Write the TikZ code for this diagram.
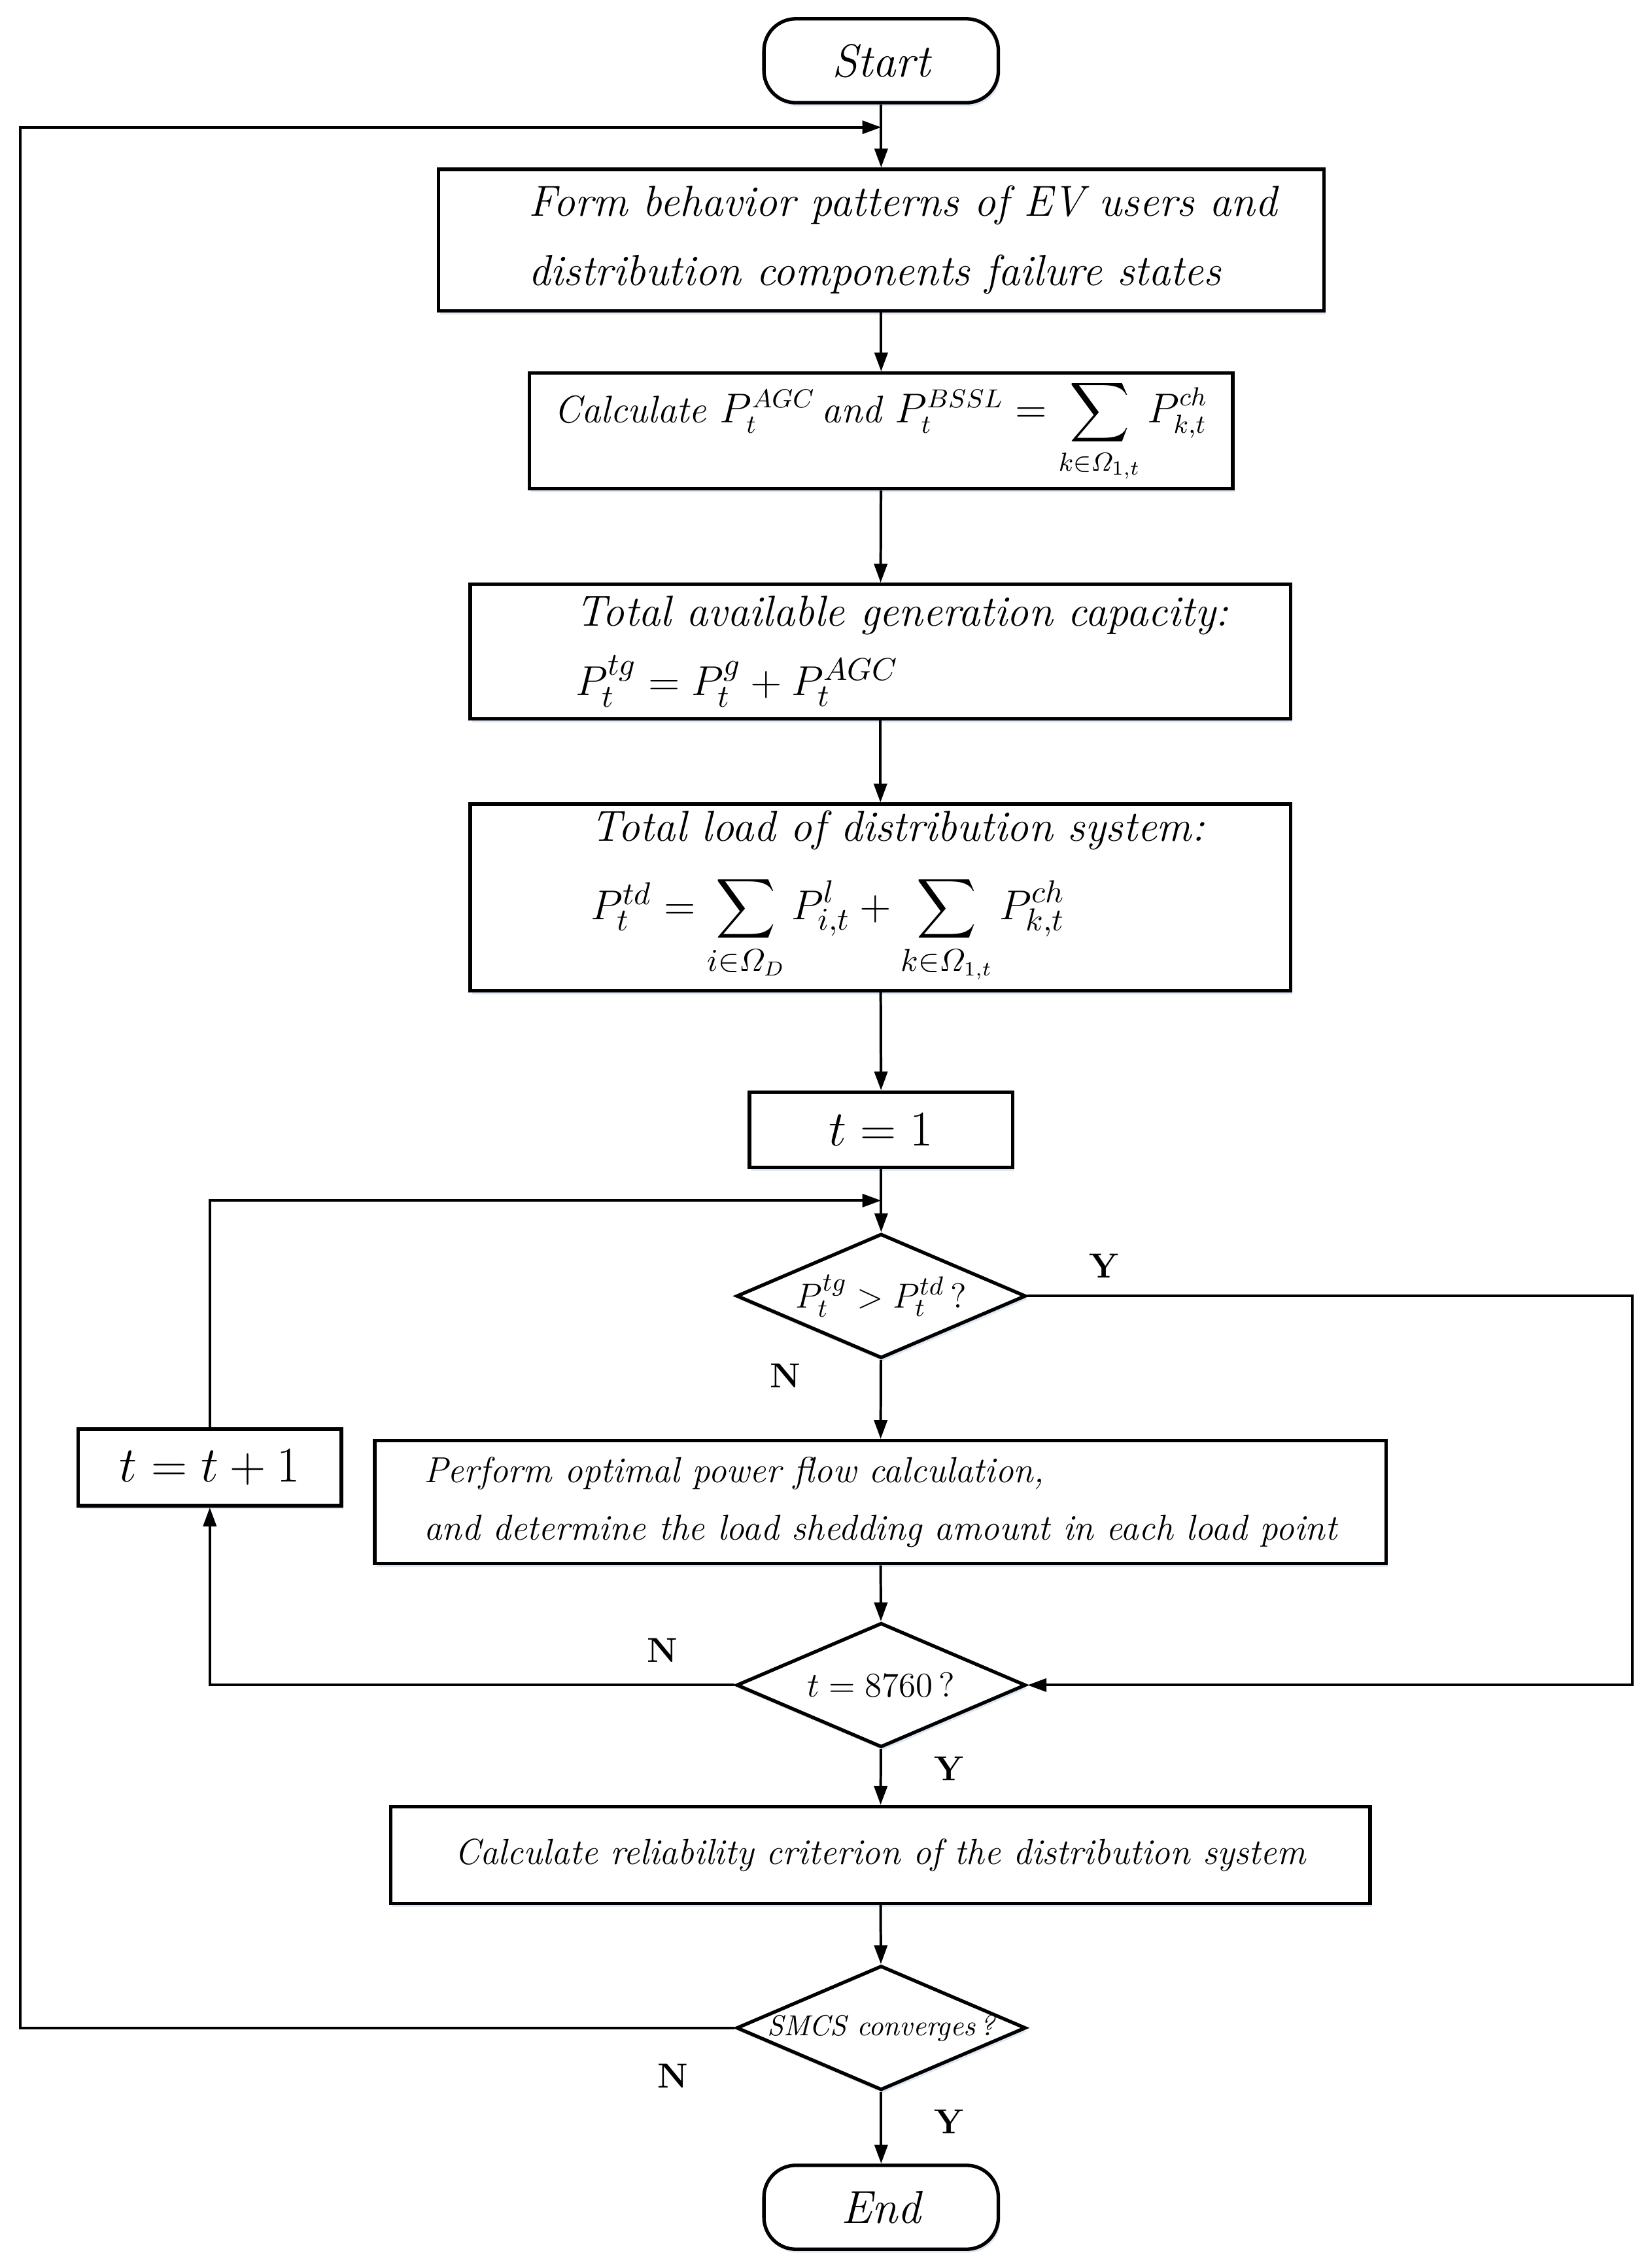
\documentclass[tikz,border=0pt]{standalone}
\usepackage{amsmath}
\usetikzlibrary{shapes.geometric,arrows.meta,shadows}
\definecolor{shadowblue}{RGB}{150,175,215}
\tikzset{
  shd/.style={drop shadow={shadow xshift=0.6pt, shadow yshift=-1.2pt, fill=shadowblue, opacity=0.3}},
  box/.style={draw, fill=white, line width=1.2pt, rectangle, inner sep=0pt, align=left, shd},
  term/.style={draw, fill=white, line width=1.2pt, rectangle, rounded corners=11pt, inner sep=0pt, shd},
  dec/.style={draw, fill=white, line width=1.2pt, diamond, aspect=1, inner sep=0pt, shd},
  conn/.style={line width=0.9pt, -{Triangle[length=6.5pt,width=4.5pt]}},
  yn/.style={font=\fontsize{12}{12}\selectfont\bfseries, inner sep=0pt},
}
\begin{document}
\begin{tikzpicture}[x=0.5pt,y=-0.5pt]
\useasboundingbox (0,0) rectangle (1140,1568);
% nodes
\node[term, minimum width=81pt, minimum height=29pt, font=\fontsize{16}{16}\selectfont\itshape] (start) at (609,42) {Start};
\node[box, minimum width=306pt, minimum height=49pt, font=\fontsize{15}{24}\selectfont\itshape] (b1) at (609,166)
  {\hspace*{15pt}Form behavior patterns of EV users and\\ \hspace*{15pt}distribution components failure states};
\node[box, minimum width=243pt, minimum height=40pt, font=\fontsize{13.3}{20}\selectfont\itshape] (b2) at (609,298)
  {Calculate $P_t^{AGC}$\,and $P_t^{BSSL}=\displaystyle\sum_{k\in\varOmega_{1,t}}P_{k,t}^{ch}$};
\node[box, minimum width=283.5pt, minimum height=46.5pt, font=\fontsize{15}{24}\selectfont\itshape] (b3) at (608.5,450.5)
  {\hspace*{15pt}Total available generation capacity:\\ \hspace*{15pt}$P_t^{tg}=P_t^{g}+P_t^{AGC}$};
\node[box, minimum width=283.5pt, minimum height=64.5pt, font=\fontsize{15}{23}\selectfont\itshape] (b4) at (608.5,620.5)
  {\hspace*{12pt}Total load of distribution system:\\[4pt] \hspace*{12pt}$P_t^{td}=\displaystyle\sum_{i\in\varOmega_D}P_{i,t}^{l}+\sum_{k\in\varOmega_{1,t}}P_{k,t}^{ch}$};
\node[box, minimum width=91pt, minimum height=26pt, font=\fontsize{19}{19}\selectfont] (t1) at (609,781) {$t=1$};
\node[dec, minimum width=100pt, minimum height=43pt, font=\fontsize{13}{13}\selectfont] (d1) at (609,896)
  {\makebox[0pt]{$P_t^{tg}>P_t^{td}\,?$}};
\node[box, minimum width=91pt, minimum height=26.5pt, font=\fontsize{16}{16}\selectfont] (tinc) at (145,1014.5) {$t=t+1$};
\node[box, minimum width=349.5pt, minimum height=42.5pt, font=\fontsize{12.5}{20}\selectfont\itshape] (opf) at (608.5,1038.5)
  {Perform optimal power flow calculation,\\ and determine the load shedding amount in each load point};
\node[dec, minimum width=100pt, minimum height=43pt, font=\fontsize{12}{12}\selectfont] (d2) at (609,1165)
  {\makebox[0pt]{$t=8760\,?$}};
\node[box, minimum width=338.5pt, minimum height=33.5pt, font=\fontsize{12.5}{16}\selectfont\itshape] (rel) at (608.5,1282.5)
  {Calculate reliability criterion of the distribution system};
\node[dec, minimum width=100pt, minimum height=43pt, font=\fontsize{10}{10}\selectfont\itshape] (d3) at (609,1402)
  {\makebox[0pt]{SMCS converges\,?}};
\node[term, minimum width=81pt, minimum height=29pt, font=\fontsize{16}{16}\selectfont\itshape] (end) at (609,1526) {End};
% labels
\node[yn] (y1) at (763,875) {Y};
\node[yn] (n1) at (543,951) {N};
\node[yn] (n2) at (458,1141) {N};
\node[yn] (y2) at (656,1223) {Y};
\node[yn] (n3) at (465,1435) {N};
\node[yn] (y3) at (656,1467) {Y};
% helper coordinates
\coordinate (j1) at (609,88);
\coordinate (j2) at (609,830);
\coordinate (lx) at (14,0);
\coordinate (rx) at (1128,0);
% connectors
\draw[conn] (start) -- (b1);
\draw[conn] (b1) -- (b2);
\draw[conn] (b2) -- (b3);
\draw[conn] (b3) -- (b4);
\draw[conn] (b4) -- (t1);
\draw[conn] (t1) -- (d1);
\draw[conn] (d1) -- (opf);
\draw[conn] (opf) -- (d2);
\draw[conn] (d2) -- (rel);
\draw[conn] (rel) -- (d3);
\draw[conn] (d3) -- (end);
\draw[conn] (d3.west) -- (d3.west -| lx) -- (j1 -| lx) -- (j1);
\draw[conn] (tinc.north) |- (j2);
\draw[conn] (d1.east) -- (d1.east -| rx) -- (d2.east -| rx) -- (d2.east);
\draw[conn] (d2.west) -| (tinc.south);
\end{tikzpicture}
\end{document}
